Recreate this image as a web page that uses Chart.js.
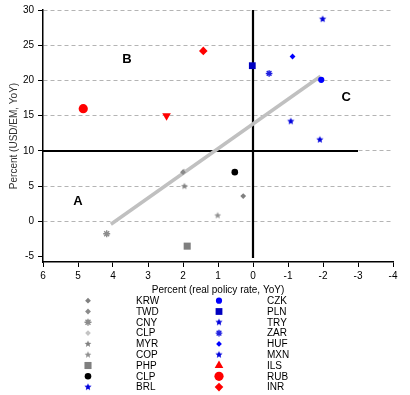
<!DOCTYPE html>
<html>
<head>
<meta charset="utf-8">
<script src="https://cdn.jsdelivr.net/npm/chart.js@4.4.1/dist/chart.umd.min.js"></script>
<style>
  body { margin: 0; background: #fff; }
  #wrap { width: 410px; height: 395px; position: relative; }
</style>
</head>
<body>
<div id="wrap"><canvas id="chart"></canvas></div>
<script>
// data
var currencies = ['KRW','TWD','CNY','CLP','MYR','COP','PHP','CLP','BRL',
                  'CZK','PLN','TRY','ZAR','HUF','MXN','ILS','RUB','INR'];
var policyRate = [0.28, 2.0, 4.18, 1.97, 1.96, 1.01, 1.88, 0.52, -1.91,
                  -1.95, 0.02, -1.99, -0.46, -1.13, -1.08, 2.47, 4.85, 1.42];
var fxChange   = [3.6, 7.0, -1.75, 7.1, 5.0, 0.85, -3.5, 7.0, 11.6,
                  20.1, 22.1, 28.7, 21.0, 23.4, 14.2, 15.0, 16.0, 24.2];

var fitX = [4.06, -1.93];
var fitY = [-0.4, 20.6];
var hLineX = [6, -3];
var hLineY = [10, 10];
var vLineX = [0, 0];
var vLineY = [30, -5.2];

var quadNames = ['A', 'B', 'C'];
var quadX = [5.0, 3.6, -2.66];
var quadY = [2.8, 23.0, 17.6];

var xTicks = [6, 5, 4, 3, 2, 1, 0, -1, -2, -3, -4];
var yTicks = [-5, 0, 5, 10, 15, 20, 25, 30];

var FONT = "'Liberation Sans', Arial, sans-serif";

// five point star drawn on a small canvas, used as a point style
function starImg(color, r) {
  var c = document.createElement('canvas');
  var s = Math.ceil(r * 2 + 2);
  c.width = s; c.height = s;
  var g = c.getContext('2d');
  g.fillStyle = color;
  g.beginPath();
  for (var i = 0; i < 10; i++) {
    var rr = i % 2 ? r * 0.45 : r;
    var a = -Math.PI / 2 + i * Math.PI / 5;
    var px = s / 2 + Math.cos(a) * rr, py = s / 2 + Math.sin(a) * rr;
    if (i == 0) g.moveTo(px, py); else g.lineTo(px, py);
  }
  g.closePath();
  g.fill();
  return c;
}

var GREY = '#808080', BLUE = '#0000ff', RED = '#ff0000';
var markers = [
  {style: 'rectRot', color: GREY, r: 2.9},
  {style: 'rectRot', color: '#8a8a8a', r: 2.9},
  {style: 'star', color: '#8c8c8c', r: 3.5, bw: 1.4},
  {style: 'rectRot', color: '#c4c4c4', r: 2.8},
  {style: starImg('#808080', 3.6), color: GREY, r: 3},
  {style: starImg('#909090', 3.6), color: GREY, r: 3},
  {style: 'rect', color: '#7f7f7f', r: 5},
  {style: 'circle', color: '#000000', r: 3.3},
  {style: starImg('#0000dd', 3.8), color: BLUE, r: 3},
  {style: 'circle', color: BLUE, r: 3.1},
  {style: 'rect', color: '#0000c0', r: 4.8},
  {style: starImg('#0000dd', 3.8), color: BLUE, r: 3},
  {style: 'star', color: '#2020e0', r: 3.3, bw: 1.4},
  {style: 'rectRot', color: BLUE, r: 2.9},
  {style: starImg('#0000dd', 3.8), color: BLUE, r: 3},
  {style: 'triangle', color: RED, r: 5, rot: 180, legendRot: 0},
  {style: 'circle', color: RED, r: 4.6},
  {style: 'rectRot', color: RED, r: 4.3}
];

var datasets = [];
currencies.forEach(function(name, i) {
  var m = markers[i];
  datasets.push({
    label: name,
    data: [{x: policyRate[i], y: fxChange[i]}],
    pointStyle: m.style,
    pointRadius: m.r,
    pointRotation: m.rot || 0,
    backgroundColor: m.color,
    borderColor: m.color,
    pointBorderWidth: m.bw || 0,
    order: 0
  });
});

function lineSet(xs, ys, color, width) {
  return {
    data: xs.map(function(x, i) { return {x: x, y: ys[i]}; }),
    showLine: true, pointRadius: 0,
    borderColor: color, borderWidth: width, order: 1
  };
}
datasets.push(lineSet(fitX, fitY, '#c0c0c0', 3.5));
datasets.push(lineSet(hLineX, hLineY, '#000000', 2.2));
datasets.push(lineSet(vLineX, vLineY, '#000000', 2.2));

// quadrant letters and the two column legend
var extras = {
  id: 'extras',
  afterDatasetsDraw: function(chart) {
    var ctx = chart.ctx, xs = chart.scales.x, ys = chart.scales.y;
    ctx.save();
    ctx.fillStyle = '#000';
    ctx.font = 'bold 13px ' + FONT;
    ctx.textAlign = 'center';
    ctx.textBaseline = 'middle';
    quadNames.forEach(function(t, i) {
      ctx.fillText(t, xs.getPixelForValue(quadX[i]), ys.getPixelForValue(quadY[i]));
    });

    ctx.font = '10px ' + FONT;
    ctx.textAlign = 'left';
    currencies.forEach(function(name, i) {
      var col = i < 9 ? 0 : 1, row = i % 9;
      var y = 300.7 + row * 10.8;
      var mx = col ? 219 : 88, tx = col ? 267 : 136;
      var m = markers[i];
      ctx.fillStyle = m.color;
      ctx.strokeStyle = m.color;
      ctx.lineWidth = m.bw || 0;
      var rot = m.legendRot !== undefined ? m.legendRot : (m.rot || 0);
      Chart.helpers.drawPoint(ctx, {pointStyle: m.style, radius: m.r, rotation: rot, borderWidth: m.bw || 0}, mx, y);
      ctx.fillStyle = '#000';
      ctx.fillText(name, tx, y + 0.5);
    });
    ctx.restore();
  }
};

new Chart(document.getElementById('chart'), {
  type: 'scatter',
  data: {datasets: datasets},
  plugins: [extras],
  options: {
    responsive: true,
    maintainAspectRatio: false,
    animation: false,
    layout: {padding: {top: 9, right: 17, bottom: 98, left: 0}},
    plugins: {legend: {display: false}, tooltip: {enabled: false}},
    scales: {
      x: {
        type: 'linear', reverse: true, min: -4, max: 6,
        afterBuildTicks: function(s) { s.ticks = xTicks.map(function(v) { return {value: v}; }); },
        afterFit: function(s) { s.height = 35; },
        ticks: {color: '#000', font: {family: FONT, size: 10}, padding: 3, maxRotation: 0},
        grid: {drawOnChartArea: false, tickColor: '#000', tickLength: 5, tickWidth: 1},
        border: {color: '#000', width: 1.5},
        title: {display: true, text: 'Percent (real policy rate, YoY)', color: '#000',
                font: {family: FONT, size: 10}, padding: {top: 0, bottom: 1}}
      },
      y: {
        type: 'linear', min: -5.75, max: 30,
        afterBuildTicks: function(s) { s.ticks = yTicks.map(function(v) { return {value: v}; }); },
        afterFit: function(s) { s.width = 43; },
        ticks: {color: '#000', font: {family: FONT, size: 10}, padding: 4},
        grid: {
          color: function(c) { return c.tick && c.tick.value === -5 ? 'rgba(0,0,0,0)' : '#b4b4b4'; },
          tickColor: '#000', tickLength: 5, lineWidth: 1
        },
        border: {color: '#000', width: 1.5, dash: [4, 3]},
        title: {display: true, text: 'Percent (USD/EM, YoY)', color: '#333',
                font: {family: FONT, size: 10}, padding: {top: 8, bottom: 0}}
      }
    }
  }
});
</script>
</body>
</html>
